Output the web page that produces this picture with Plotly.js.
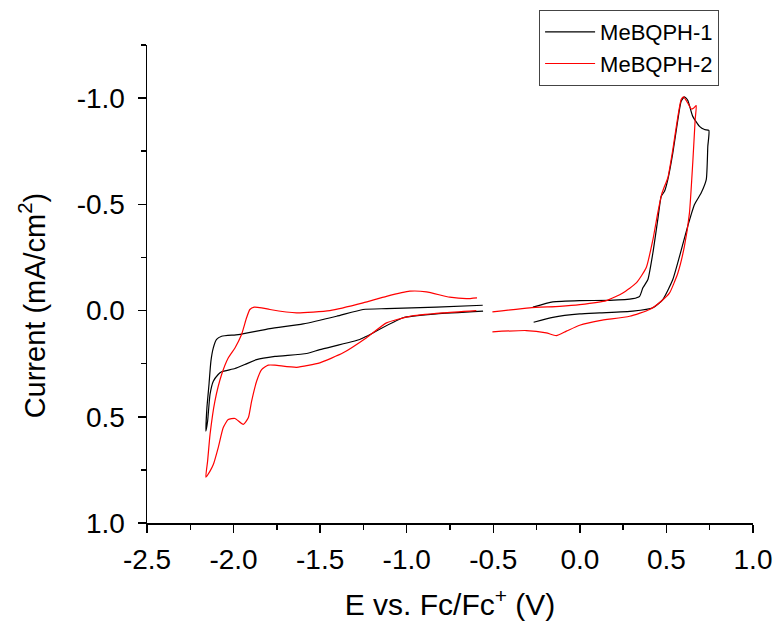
<!DOCTYPE html>
<html>
<head>
<meta charset="utf-8">
<script src="https://cdn.plot.ly/plotly-3.0.1.min.js"></script>
<style>
  html, body { margin: 0; padding: 0; background: #fff; }
  #chart { width: 778px; height: 626px; }
</style>
</head>
<body>
<div id="chart"></div>
<script>
// ---- Data (E in V vs Fc/Fc+, current in mA/cm^2) ----
var seriesNames = ['MeBQPH-1', 'MeBQPH-2'];
var seriesColors = ['#000000', '#ff0000'];

// MeBQPH-1, cathodic window
var m1LeftE = [-0.561, -0.828, -1.117, -1.252, -1.405, -1.598, -1.790, -1.973, -2.069, -2.098, -2.117, -2.131, -2.142, -2.154, -2.160,
               -2.150, -2.136, -2.117, -2.089, -2.069, -1.992, -1.935, -1.867, -1.761, -1.578, -1.502, -1.271, -1.232, -1.021, -0.828, -0.559];
var m1LeftI = [-0.025, -0.016, -0.009, -0.005, 0.027, 0.063, 0.085, 0.113, 0.121, 0.136, 0.176, 0.239, 0.348, 0.458, 0.568,
               0.521, 0.395, 0.333, 0.301, 0.288, 0.273, 0.254, 0.231, 0.216, 0.202, 0.184, 0.136, 0.121, 0.034, 0.016, 0.003];
// MeBQPH-1, anodic window
var m1RightE = [-0.271, -0.156, -0.001, 0.172, 0.306, 0.345, 0.364, 0.393, 0.422, 0.450, 0.470, 0.489, 0.508, 0.537, 0.566, 0.585, 0.604, 0.623, 0.652, 0.691, 0.720, 0.745,
                0.739, 0.730, 0.701, 0.662, 0.623, 0.576, 0.537, 0.479, 0.422, 0.306, 0.114, -0.001, -0.156, -0.267];
var m1RightI = [-0.016, -0.041, -0.047, -0.048, -0.056, -0.067, -0.107, -0.146, -0.272, -0.428, -0.538, -0.561, -0.616, -0.742, -0.899, -0.985, -1.006, -0.990, -0.914, -0.867, -0.852, -0.848,
                -0.773, -0.616, -0.554, -0.499, -0.397, -0.256, -0.146, -0.052, -0.013, 0.003, 0.011, 0.016, 0.032, 0.055];

// MeBQPH-2, cathodic window
var m2LeftE = [-0.594, -0.655, -0.752, -0.886, -0.982, -1.117, -1.252, -1.444, -1.636, -1.790, -1.838, -1.881, -1.906, -1.925, -1.954, -1.992, -2.031, -2.069, -2.108, -2.136, -2.150, -2.160,
               -2.136, -2.117, -2.089, -2.060, -2.031, -1.992, -1.944, -1.915, -1.896, -1.867, -1.838, -1.800, -1.761, -1.636, -1.502, -1.367, -1.232, -1.117, -0.982, -0.790, -0.598];
var m2LeftI = [-0.060, -0.056, -0.063, -0.088, -0.091, -0.067, -0.036, 0.000, 0.011, -0.005, -0.013, -0.016, -0.005, 0.034, 0.113, 0.176, 0.223, 0.301, 0.427, 0.584, 0.709, 0.784,
               0.756, 0.725, 0.646, 0.552, 0.513, 0.508, 0.536, 0.505, 0.427, 0.333, 0.278, 0.257, 0.257, 0.267, 0.246, 0.199, 0.128, 0.058, 0.027, 0.011, 0.000];
// MeBQPH-2, anodic window
var m2RightE = [-0.505, -0.290, -0.117, -0.001, 0.153, 0.248, 0.326, 0.383, 0.422, 0.450, 0.472, 0.489, 0.508, 0.537, 0.566, 0.585, 0.599, 0.623, 0.643, 0.658, 0.672,
                0.666, 0.652, 0.633, 0.604, 0.566, 0.518, 0.470, 0.403, 0.287, 0.114, -0.001, -0.078, -0.136, -0.194, -0.309, -0.505];
var m2RightI = [0.006, -0.013, -0.020, -0.028, -0.047, -0.083, -0.130, -0.201, -0.334, -0.460, -0.546, -0.585, -0.624, -0.758, -0.913, -0.993, -1.006, -0.977, -0.949, -0.954, -0.965,
                -0.899, -0.695, -0.460, -0.303, -0.177, -0.083, -0.044, -0.005, 0.027, 0.047, 0.069, 0.097, 0.118, 0.105, 0.094, 0.100];

// Tick labels
var xTickVals = [-2.5, -2.0, -1.5, -1.0, -0.5, 0.0, 0.5, 1.0];
var xTickText = ['-2.5', '-2.0', '-1.5', '-1.0', '-0.5', '0.0', '0.5', '1.0'];
var yTickVals = [-1.0, -0.5, 0.0, 0.5, 1.0];
var yTickText = ['-1.0', '-0.5', '0.0', '0.5', '1.0'];
var xMinorVals = [-2.25, -1.75, -1.25, -0.75, -0.25, 0.25, 0.75];
var yMinorVals = [-1.25, -0.75, -0.25, 0.25, 0.75];

function joinSeg(a, b) { return a.concat([null], b); }

var traces = [
  { x: joinSeg(m1LeftE, m1RightE), y: joinSeg(m1LeftI, m1RightI) },
  { x: joinSeg(m2LeftE, m2RightE), y: joinSeg(m2LeftI, m2RightI) }
].map(function (d, i) {
  return {
    type: 'scatter', mode: 'lines', name: seriesNames[i],
    x: d.x, y: d.y, connectgaps: false,
    line: { color: seriesColors[i], width: 1.2, shape: 'spline', smoothing: 0.5 }
  };
});

var fontFam = 'Arial, "Liberation Sans", Helvetica, sans-serif';

var layout = {
  width: 778, height: 626,
  margin: { l: 147, r: 25, t: 45, b: 103, pad: 0, autoexpand: false },
  paper_bgcolor: '#fff', plot_bgcolor: '#fff',
  font: { family: fontFam, color: '#000', size: 28 },
  showlegend: true,
  legend: {
    x: 0.647, y: 1.073, xanchor: 'left', yanchor: 'top',
    bgcolor: '#fff', bordercolor: '#444', borderwidth: 1,
    font: { family: fontFam, size: 22, color: '#000' },
    itemwidth: 50, tracegroupgap: 0
  },
  xaxis: {
    range: [-2.5, 1.0], showgrid: false, zeroline: false,
    showline: true, linecolor: '#000', linewidth: 1.5, mirror: false,
    ticks: 'outside', ticklen: 8, tickwidth: 1.5, tickcolor: '#000',
    tickmode: 'array', tickvals: xTickVals, ticktext: xTickText,
    tickfont: { family: fontFam, size: 28, color: '#000' },
    ticklabelstandoff: 3, automargin: false,
    minor: { tickmode: 'array', tickvals: xMinorVals, ticks: 'outside', ticklen: 5, tickwidth: 1.5, tickcolor: '#000', showgrid: false },
    title: { text: 'E vs. Fc/Fc<sup>+</sup> (V)', font: { family: fontFam, size: 30, color: '#000' }, standoff: 20 }
  },
  yaxis: {
    range: [1.0, -1.25], showgrid: false, zeroline: false,
    showline: true, linecolor: '#000', linewidth: 1.5, mirror: false,
    ticks: 'outside', ticklen: 8, tickwidth: 1.5, tickcolor: '#000',
    tickmode: 'array', tickvals: yTickVals, ticktext: yTickText,
    tickfont: { family: fontFam, size: 28, color: '#000' },
    ticklabelstandoff: 7, automargin: false,
    minor: { tickmode: 'array', tickvals: yMinorVals, ticks: 'outside', ticklen: 5, tickwidth: 1.5, tickcolor: '#000', showgrid: false }
  },
  annotations: [{
    text: 'Current (mA/cm<sup>2</sup>)', textangle: -90,
    xref: 'paper', yref: 'paper', x: -0.19, y: 0.455,
    xanchor: 'center', yanchor: 'middle', showarrow: false,
    font: { family: fontFam, size: 29, color: '#000' }
  }]
};

Plotly.newPlot('chart', traces, layout, { displayModeBar: false, staticPlot: true });
</script>
</body>
</html>
